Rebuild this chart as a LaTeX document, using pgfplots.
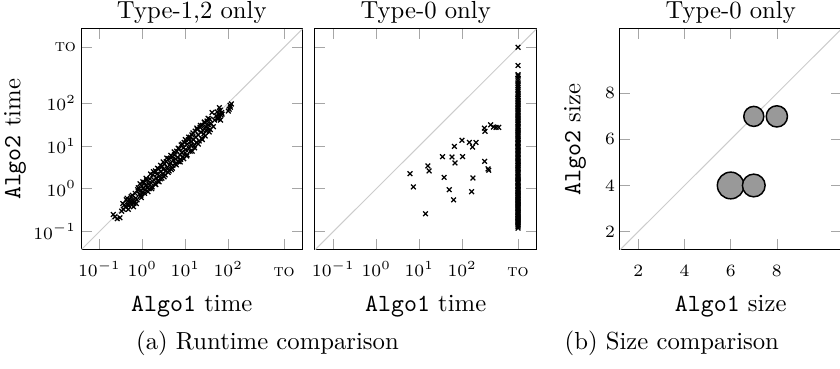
\documentclass[border=0pt]{standalone}
\usepackage{pgfplots}
\pgfplotsset{compat=1.18}
\pgfplotsset{
  myax/.style={width=89.7pt,height=89.5pt,scale only axis,
    title style={font=\normalsize, at={(0.5,1)}, anchor=base, yshift=-1.6pt},
    tick label style={font=\scriptsize},
    xticklabel style={anchor=base, yshift=-10.8pt},
    yticklabel style={xshift=1.5pt},
    xlabel style={at={(axis description cs:0.5,0)}, anchor=base, yshift=-25pt},
    major tick style={gray!70},
    label style={font=\normalsize},
    xminorticks=false, yminorticks=false},
  mylog/.style={myax,
    xmin=0.0372, xmax=5370, ymin=0.0372, ymax=5370,
    xtick={0.1,1,10,100,2000}, ytick={0.1,1,10,100,2000},
    xticklabels={$10^{-1}$,$10^{0}$,$10^{1}$,$10^{2}$,\textsc{to}},
    yticklabels={$10^{-1}$,$10^{0}$,$10^{1}$,$10^{2}$,\textsc{to}}},
  mymark/.style={only marks, mark=x, mark size=1.35pt, black, mark options={line width=0.5pt}}
}
\begin{document}
\begin{tikzpicture}
\useasboundingbox (0,0) rectangle (340.1pt,-149pt);

\begin{loglogaxis}[mylog, at={(32.8pt,-11.7pt)}, anchor=north west,
  title={Type-1,2 only}, xlabel={\texttt{Algo1} time}, ylabel={\texttt{Algo2} time},
  ylabel style={at={(axis description cs:-0.209,0.5)}, anchor=south}]
\addplot[gray!40, line width=0.4pt] coordinates {(0.0372,0.0372) (5370,5370)};
\addplot[mymark] coordinates {
(0.21,0.25) (0.23,0.22) (0.26,0.2) (0.3,0.21) (0.33,0.3) (0.36,0.33) (0.38,0.42) (0.41,0.37) (0.44,0.6) (0.46,0.45)
(0.48,0.4) (0.5,0.55) (0.52,0.48) (0.55,0.65) (0.57,0.42) (0.6,0.52) (0.63,0.45) (0.66,0.5) (0.7,0.6) (0.75,0.55)
(0.8,1.05) (0.85,0.75) (0.9,0.9) (0.92,0.7) (0.97,1.15) (1.0,0.8) (1.05,1.0) (1.1,1.4) (1.15,0.95) (1.2,1.2)
(1.25,1.6) (1.3,1.05) (1.4,1.3) (1.45,1.0) (1.5,1.7) (1.6,1.35) (1.7,1.1) (1.75,2.1) (1.85,1.6) (1.95,1.3)
(2.0,2.6) (2.1,1.8) (2.2,2.2) (2.3,1.5) (2.4,2.9) (2.5,2.0) (2.6,1.7) (2.7,2.5) (2.9,3.3) (3.0,2.2)
(3.1,2.8) (3.2,1.9) (3.3,3.8) (3.5,2.6) (3.6,4.3) (3.8,3.1) (4.0,2.4) (4.1,5.0) (4.3,3.6) (4.5,4.0)
(4.7,2.8) (4.9,5.6) (5.1,3.5) (5.3,4.6) (5.6,6.2) (5.8,3.8) (6.0,4.9) (6.3,7.5) (6.6,5.4) (6.9,4.3)
(7.2,8.5) (7.5,6.1) (7.8,4.8) (8.0,10.5) (8.3,7.0) (8.7,5.5) (9.0,9.0) (9.4,12) (9.8,6.8) (10.2,8.2)
(10.8,5.8) (11.2,11) (11.8,14) (12.3,8.8) (13,16) (13.5,10.5) (14,12.5) (14.5,7.5) (15,20) (15.5,14)
(16,10) (17,22) (17.5,16) (18,12) (19,24) (20,18) (21,13) (22,27) (23,21) (24,15)
(25,30) (26,23) (27,19) (28,35) (30,28) (31,22) (32,38) (33,26) (35,31) (37,42)
(38,24) (40,33) (52,50) (55,62) (57,42) (60,55) (62,48) (65,68) (68,52) (70,60)
(100,65) (105,72) (110,88) (118,95) (112,80) (58,45)
(0.35,0.45) (0.42,0.55) (0.47,0.33) (0.58,0.7) (0.62,0.38) (0.68,0.78) (0.72,0.45) (0.78,0.95) (0.88,1.3) (0.95,0.62)
(1.02,1.45) (1.12,0.78) (1.22,1.75) (1.35,0.85) (1.55,2.2) (1.65,1.0) (1.8,2.5) (2.05,1.25) (2.25,3.0) (2.45,1.45)
(2.65,3.5) (2.85,1.75) (3.05,4.2) (3.4,2.1) (3.7,5.2) (4.2,2.6) (4.6,6.0) (5.0,3.0) (5.5,7.2) (6.2,3.6)
(6.8,8.8) (7.6,4.2) (8.5,11) (9.2,5.0) (10,14) (11,6.2) (12,16) (13,7.5) (14.2,18) (16.5,9)
(18.5,26) (20,11) (22.5,30) (25,14) (27.5,36) (29,17) (34,44) (36,21) (42,60) (45,28)
(48,40) (62,78) (66,40) (72,55)
};
\end{loglogaxis}

\begin{loglogaxis}[mylog, at={(127.5pt,-11.7pt)}, anchor=north west,
  title={Type-0 only}, xlabel={\texttt{Algo1} time}, yticklabels={}]
\addplot[gray!40, line width=0.4pt] coordinates {(0.0372,0.0372) (5370,5370)};
\addplot[mymark] coordinates {
(6.1,2.24) (7.3,1.1) (14,0.26) (15.9,3.4) (17,2.6) (34.8,5.6) (38,1.84) (58,5.5) (66,9.7) (68,4.0)
(50,0.95) (63,0.55) (99,13.5) (102,5.6) (147,12) (175,9.4) (210,12) (178,1.78) (166,0.85) (334,4.35)
(330,26) (340,21.8) (400,2.9) (415,2.7) (460,31) (534,27.6) (616,27) (710,27)
(2000,0.12) (2000,0.13) (2000,0.14) (2000,0.15) (2000,0.16) (2000,0.17) (2000,0.18) (2000,0.19) (2000,0.2) (2000,0.21)
(2000,0.22) (2000,0.24) (2000,0.25) (2000,0.27) (2000,0.28) (2000,0.3) (2000,0.32) (2000,0.34) (2000,0.36) (2000,0.38)
(2000,0.4) (2000,0.43) (2000,0.45) (2000,0.48) (2000,0.5) (2000,0.53) (2000,0.56) (2000,0.6) (2000,0.63) (2000,0.67)
(2000,0.7) (2000,0.75) (2000,0.8) (2000,0.85) (2000,0.9) (2000,0.95) (2000,1.0) (2000,1.1) (2000,1.15) (2000,1.2)
(2000,1.3) (2000,1.4) (2000,1.5) (2000,1.6) (2000,1.7) (2000,1.8) (2000,1.9) (2000,2.0) (2000,2.2) (2000,2.4)
(2000,2.6) (2000,2.8) (2000,3.0) (2000,3.2) (2000,3.5) (2000,3.8) (2000,4.0) (2000,4.3) (2000,4.6) (2000,5.0)
(2000,5.4) (2000,5.8) (2000,6.2) (2000,6.7) (2000,7.2) (2000,7.8) (2000,8.4) (2000,9) (2000,9.7) (2000,10.5)
(2000,11.3) (2000,12) (2000,13) (2000,14) (2000,15) (2000,16.5) (2000,18) (2000,19.5) (2000,21) (2000,23)
(2000,25) (2000,27) (2000,29) (2000,32) (2000,35) (2000,38) (2000,41) (2000,45) (2000,49) (2000,53)
(2000,58) (2000,63) (2000,69) (2000,75) (2000,82) (2000,90) (2000,98) (2000,107) (2000,117) (2000,128)
(2000,140) (2000,155) (2000,170) (2000,190) (2000,210) (2000,235) (2000,260) (2000,290) (2000,330) (2000,380)
(2000,430) (2000,460) (2000,750) (2000,2000)
};
\end{loglogaxis}

\begin{axis}[myax, at={(251pt,-11.7pt)}, anchor=north west,
  xmin=1.2, xmax=10.8, ymin=1.2, ymax=10.8,
  xtick={2,4,6,8}, ytick={2,4,6,8},
  title={Type-0 only}, xlabel={\texttt{Algo1} size}, ylabel={\texttt{Algo2} size},
  ylabel style={at={(axis description cs:-0.114,0.5)}, anchor=south}]
\addplot[gray!40, line width=0.4pt] coordinates {(1.2,1.2) (10.8,10.8)};
\addplot[only marks, mark=*, mark size=5.4pt, draw=black, fill=black!40, mark options={line width=0.6pt}] coordinates {(6,4)};
\addplot[only marks, mark=*, mark size=4.6pt, draw=black, fill=black!40, mark options={line width=0.6pt}] coordinates {(7,4)};
\addplot[only marks, mark=*, mark size=4.05pt, draw=black, fill=black!40, mark options={line width=0.6pt}] coordinates {(7,7)};
\addplot[only marks, mark=*, mark size=4.3pt, draw=black, fill=black!40, mark options={line width=0.6pt}] coordinates {(8,7)};
\end{axis}

\node[anchor=base] at (108.3pt,-141.7pt) {(a) Runtime comparison};
\node[anchor=base] at (272pt,-141.7pt) {(b) Size comparison};
\end{tikzpicture}
\end{document}
